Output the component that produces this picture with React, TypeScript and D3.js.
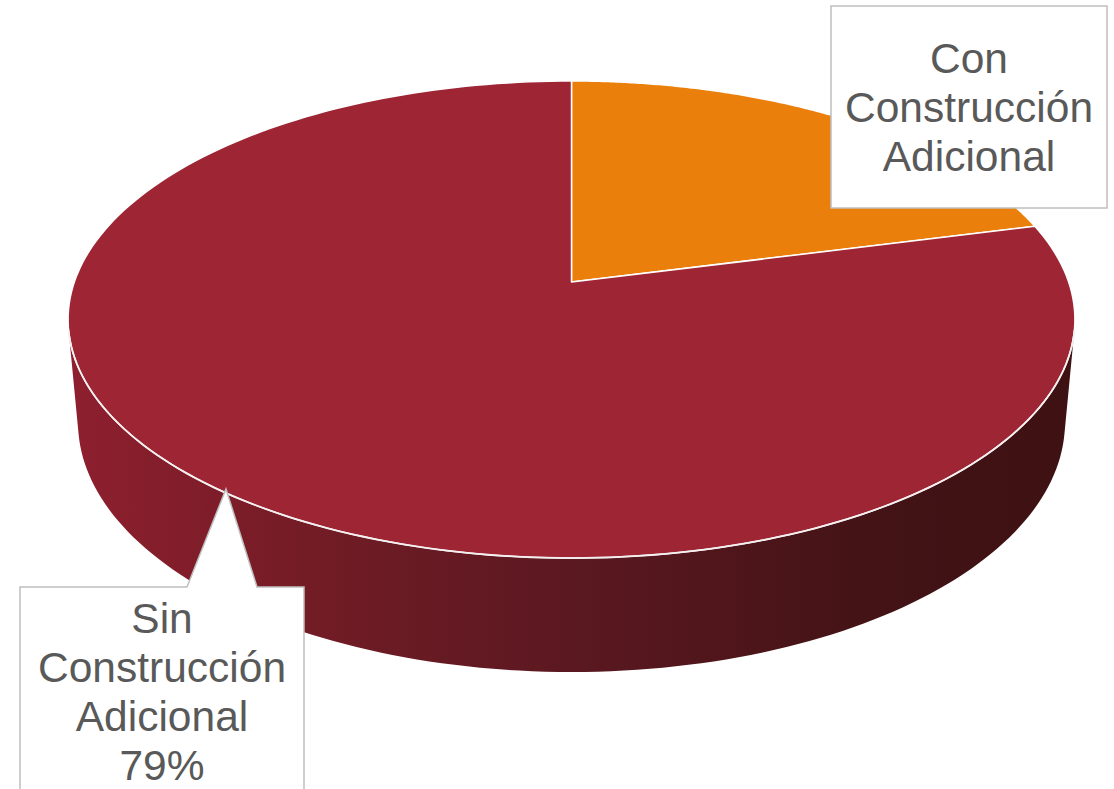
import React from 'react';
import * as d3 from 'd3';

const categories = ['Con Construcción Adicional', 'Sin Construcción Adicional'];
const values = [21, 79];
const colors = ['#EB7F0B', '#9E2534'];
const labelLines = [
  ['Con', 'Construcción', 'Adicional'],
  ['Sin', 'Construcción', 'Adicional', '79%'],
];

const W = 1114;
const H = 789;
const cx = 571.5;
const cy = 282;
const alpha = (27.9 * Math.PI) / 180;
const D = 5.62;
const f = 2794;
const depth = 0.236;

function proj3(x: number, y: number, z: number): [number, number] {
  const v = y * Math.cos(alpha) - z * Math.sin(alpha);
  const w = y * Math.sin(alpha) + z * Math.cos(alpha);
  const s = f / (D - w);
  return [cx + x * s, cy - v * s];
}

function proj(phi: number, y: number): [number, number] {
  return proj3(Math.sin(phi), y, -Math.cos(phi));
}

function arcPts(a0: number, a1: number, y: number, n = 120): [number, number][] {
  const pts: [number, number][] = [];
  for (let i = 0; i <= n; i++) pts.push(proj(a0 + ((a1 - a0) * i) / n, y));
  return pts;
}

export default function App() {
  const pie = d3.pie<number>().sort(null).value((d) => d)(values);
  const line = d3.line();
  const center = proj3(0, 0, 0);
  const lim = Math.acos(1 / (D * Math.cos(alpha)));
  const vis0 = Math.PI - lim;
  const vis1 = Math.PI + lim;

  const sides = pie
    .map((p, i) => {
      const a0 = Math.max(p.startAngle, vis0);
      const a1 = Math.min(p.endAngle, vis1);
      if (a1 <= a0) return null;
      const top = arcPts(a0, a1, 0);
      const bot = arcPts(a1, a0, -depth);
      return { i, d: line([...top, ...bot])! + 'Z' };
    })
    .filter(Boolean) as { i: number; d: string }[];

  const tops = pie.map((p, i) => ({
    i,
    d: line([center, ...arcPts(p.startAngle, p.endAngle, 0, 200)])! + 'Z',
  }));

  const frontRim = line(arcPts(vis0, vis1, 0))!;

  const font = '"Liberation Sans", Arial, sans-serif';
  const fs = 42.5;
  const lh = 49;

  const sinBox = 'M20,587 L187,587 L226,489 L257,587 L304,587 L304,800 L20,800 Z';

  return (
    <svg width={W} height={H} style={{ position: 'absolute', left: 0, top: 0, background: '#fff' }}>
      <defs>
        <linearGradient id="sideGrad" gradientUnits="userSpaceOnUse" x1={70} x2={1075} y1={0} y2={0}>
          <stop offset="0" stopColor="#8E1F2E" />
          <stop offset="0.3" stopColor="#6C1B24" />
          <stop offset="0.5" stopColor="#5B1820" />
          <stop offset="0.8" stopColor="#431316" />
          <stop offset="1" stopColor="#3E1113" />
        </linearGradient>
      </defs>
      {sides.map((s) => (
        <path key={'s' + s.i} d={s.d} fill="url(#sideGrad)" stroke="none" />
      ))}
      {tops.map((t) => (
        <path key={'t' + t.i} d={t.d} fill={colors[t.i]} stroke="#fff" strokeWidth={1.5} strokeLinejoin="round" />
      ))}
      <path d={frontRim} fill="none" stroke="#f4f0f0" strokeWidth={1.8} />

      <g>
        <rect x={831} y={6} width={276} height={202} fill="#fff" stroke="#BFBFBF" strokeWidth={1.5} />
        {labelLines[0].map((t, k) => (
          <text key={k} x={969} y={73 + k * lh} textAnchor="middle" fontFamily={font} fontSize={fs} fill="#595959">
            {t}
          </text>
        ))}
      </g>
      <g>
        <path d={sinBox} fill="#fff" stroke="#BFBFBF" strokeWidth={1.5} />
        {labelLines[1].map((t, k) => (
          <text key={k} x={162} y={633 + k * lh} textAnchor="middle" fontFamily={font} fontSize={fs} fill="#595959">
            {t}
          </text>
        ))}
      </g>
    </svg>
  );
}
